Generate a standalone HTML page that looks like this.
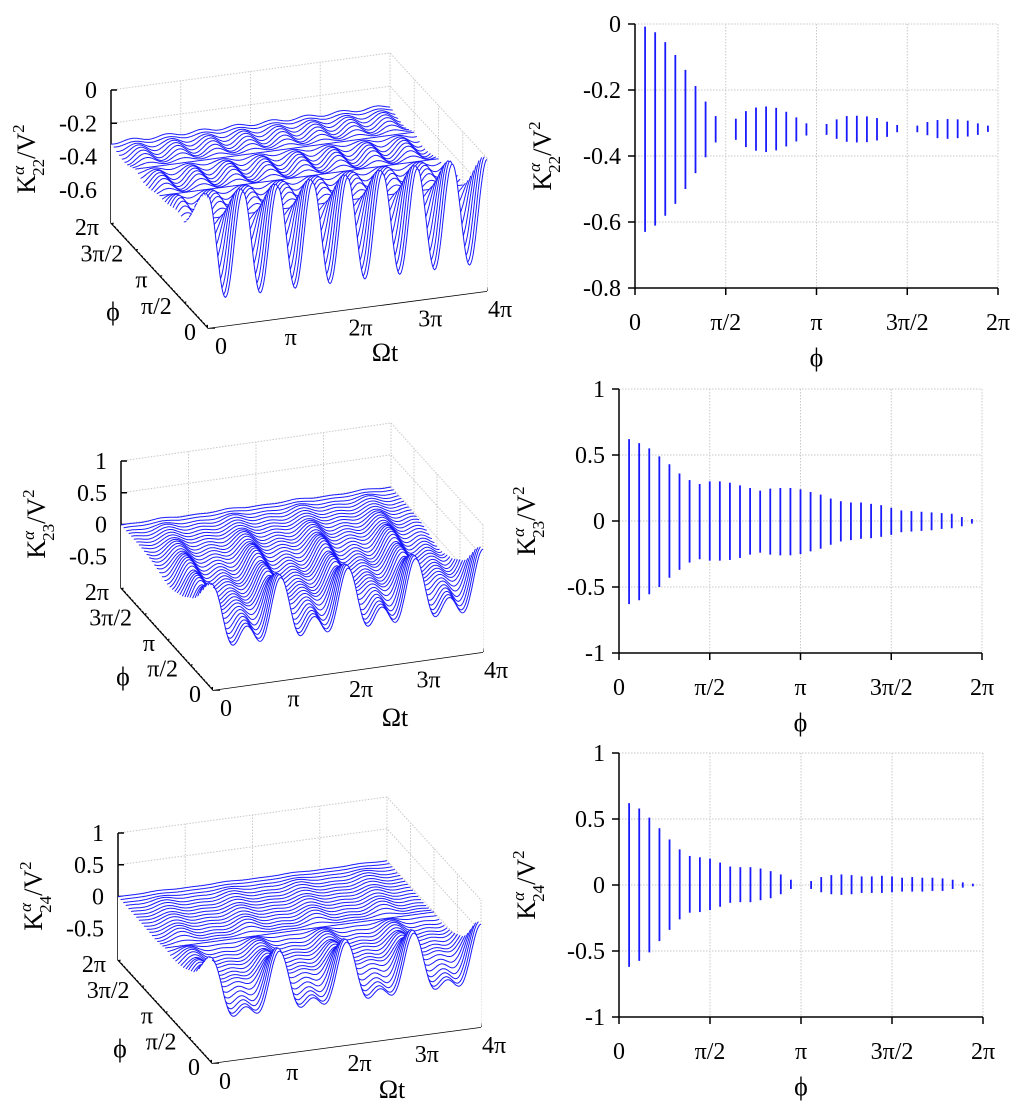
<!DOCTYPE html>
<html><head><meta charset="utf-8"><style>
html,body{margin:0;padding:0;background:#fff}
svg{display:block;font-family:"Liberation Serif",serif}
</style></head><body>
<svg id="fig" width="1024" height="1112" viewBox="0 0 1024 1112"></svg>
<script>
// ---- data (35 phi samples, phi = i*2pi/36) ----
const phiTicks = ["0","π/2","π","3π/2","2π"];
const tTicks = ["0","π","2π","3π","4π"];
const k22Max = [-0.008,-0.025,-0.055,-0.094,-0.139,-0.188,-0.235,-0.279,-0.32,-0.287,-0.264,-0.253,-0.250,-0.254,-0.266,-0.283,-0.301,-0.32,-0.303,-0.289,-0.279,-0.278,-0.280,-0.285,-0.296,-0.306,-0.318,-0.308,-0.297,-0.291,-0.288,-0.289,-0.293,-0.301,-0.308];
const k22Min = [-0.630,-0.611,-0.581,-0.545,-0.500,-0.452,-0.404,-0.359,-0.32,-0.351,-0.373,-0.384,-0.388,-0.383,-0.371,-0.356,-0.338,-0.32,-0.336,-0.348,-0.357,-0.359,-0.358,-0.353,-0.342,-0.328,-0.318,-0.328,-0.337,-0.346,-0.348,-0.346,-0.341,-0.336,-0.327];
const k23Max = [0.62,0.59,0.55,0.49,0.43,0.36,0.31,0.28,0.30,0.30,0.29,0.27,0.25,0.23,0.245,0.25,0.25,0.24,0.22,0.20,0.17,0.15,0.14,0.14,0.13,0.12,0.10,0.08,0.075,0.07,0.065,0.06,0.055,0.03,0.015];
const k23Min = [-0.63,-0.60,-0.555,-0.50,-0.43,-0.37,-0.315,-0.29,-0.30,-0.30,-0.295,-0.28,-0.255,-0.24,-0.255,-0.26,-0.26,-0.25,-0.23,-0.21,-0.18,-0.155,-0.145,-0.135,-0.13,-0.12,-0.105,-0.085,-0.08,-0.075,-0.07,-0.06,-0.055,-0.04,-0.02];
const k24Max = [0.62,0.58,0.51,0.43,0.345,0.27,0.22,0.21,0.20,0.17,0.14,0.135,0.135,0.125,0.105,0.08,0.04,0,0.03,0.06,0.075,0.08,0.075,0.065,0.065,0.07,0.065,0.055,0.06,0.055,0.055,0.05,0.04,0.02,0.01];
const k24Min = [-0.62,-0.575,-0.51,-0.425,-0.34,-0.26,-0.21,-0.205,-0.19,-0.165,-0.135,-0.13,-0.13,-0.115,-0.10,-0.07,-0.03,0,-0.03,-0.055,-0.07,-0.075,-0.07,-0.06,-0.06,-0.06,-0.055,-0.05,-0.05,-0.05,-0.045,-0.045,-0.03,-0.02,-0.01];
const k22Ticks = [0,-0.2,-0.4,-0.6,-0.8];
const k23Ticks = [1,0.5,0,-0.5,-1];

const NS="http://www.w3.org/2000/svg";
const svg=document.getElementById('fig');
function el(tag,attrs,parent){const e=document.createElementNS(NS,tag);for(const k in attrs)e.setAttribute(k,attrs[k]);(parent||svg).appendChild(e);return e;}
const BLUE="#1a1aff";
const FS=24;

function ylabel(g,cx,cy,sub){
  const t=el('text',{x:cx,y:cy,'font-size':26,'text-anchor':'middle',transform:`rotate(-90 ${cx} ${cy})`},g);
  
  
  t.innerHTML=`K<tspan font-size="17" dy="-11" font-style="italic">α</tspan><tspan font-size="17" dx="-10" dy="20">${sub}</tspan><tspan dy="-9">/V</tspan><tspan font-size="17" dy="-11">2</tspan>`;
}

function barChart(name,x0,x1,yT,yB,vTop,vBot,ticks,mins,maxs,sub){
  const g=el('g',{});
  
  
  const X=p=>x0+(x1-x0)*p/(2*Math.PI);
  const Y=v=>yT+(yB-yT)*(vTop-v)/(vTop-vBot);
  for(let i=0;i<5;i++){
    const x=x0+(x1-x0)*i/4;
    if(i>0) el('line',{x1:x,y1:yT,x2:x,y2:yB,stroke:'#c8c8c8','stroke-dasharray':'1.5,1.5'},g);
    const y=Y(ticks[i]);
    if(i<4) el('line',{x1:x0,y1:y,x2:x1,y2:y,stroke:'#c8c8c8','stroke-dasharray':'1.5,1.5'},g);
    el('line',{x1:x0-7,y1:y,x2:x0,y2:y,stroke:'#000','stroke-width':1.5},g);
    el('line',{x1:x,y1:yB,x2:x,y2:yB+7,stroke:'#000','stroke-width':1.5},g);
    const yt=el('text',{x:x0-14,y:y+8,'font-size':FS,'text-anchor':'end'},g);yt.textContent=ticks[i];
    
    
    const xt=el('text',{x:x,y:yB+42,'font-size':FS,'text-anchor':'middle'},g);xt.textContent=phiTicks[i];
    
    
  }
  el('line',{x1:x0,y1:yT,x2:x0,y2:yB,stroke:'#000','stroke-width':1.5},g);
  el('line',{x1:x0,y1:yB,x2:x1,y2:yB,stroke:'#000','stroke-width':1.5},g);
  for(let i=0;i<mins.length;i++){
    const p=(i+1)*2*Math.PI/36;
    const b=el('line',{x1:X(p),x2:X(p),y1:Y(maxs[i]),y2:Y(mins[i]),stroke:BLUE,'stroke-width':1.8},g);
    
    
  }
  const xl=el('text',{x:(x0+x1)/2,y:yB+78,'font-size':26,'text-anchor':'middle'},g);xl.textContent='ϕ';
  
  
  ylabel(g,x0-84,(yT+yB)/2,sub);
}

function surf(name,BL,FL,FR,zTopY,zmin,zmax,zticks,mins,maxs,freq,h2,sub){
  const g=el('g',{});
  
  
  const T=4*Math.PI, P2=2*Math.PI;
  const P=(t,p,z)=>[BL[0]+(t/T)*(FR[0]-FL[0])+((P2-p)/P2)*(FL[0]-BL[0]),
                    BL[1]+(t/T)*(FR[1]-FL[1])+((P2-p)/P2)*(FL[1]-BL[1])+((z-zmin)/(zmax-zmin))*(zTopY-BL[1])];
  const pt=a=>a[0].toFixed(1)+','+a[1].toFixed(1);
  const gs={stroke:'#c8c8c8','stroke-dasharray':'1.5,1.5',fill:'none'};
  for(let i=0;i<=4;i++){const t=T*i/4;el('line',{...gs,x1:P(t,0,zmin)[0],y1:P(t,0,zmin)[1],x2:P(t,P2,zmin)[0],y2:P(t,P2,zmin)[1]},g);
    const p=P2*i/4;el('line',{...gs,x1:P(0,p,zmin)[0],y1:P(0,p,zmin)[1],x2:P(T,p,zmin)[0],y2:P(T,p,zmin)[1]},g);}
  zticks.forEach(z=>{el('polyline',{...gs,points:[P(0,P2,z),P(T,P2,z),P(T,0,z)].map(pt).join(' ')},g);});
  for(let i=1;i<=4;i++){const t=T*i/4;el('line',{...gs,x1:P(t,P2,zmin)[0],y1:P(t,P2,zmin)[1],x2:P(t,P2,zmax)[0],y2:P(t,P2,zmax)[1]},g);}
  for(let i=0;i<4;i++){const p=P2*i/4;el('line',{...gs,x1:P(T,p,zmin)[0],y1:P(T,p,zmin)[1],x2:P(T,p,zmax)[0],y2:P(T,p,zmax)[1]},g);}
  const ax={stroke:'#000','stroke-width':1.5,fill:'none'};
  el('polyline',{...ax,points:[P(0,P2,zmax),P(0,P2,zmin),P(0,0,zmin),P(T,0,zmin)].map(pt).join(' ')},g);
  zticks.forEach(z=>{const a=P(0,P2,z);el('line',{...ax,x1:a[0],y1:a[1],x2:a[0]+6,y2:a[1]},g);
    if(z===zmin) return;
    const l=el('text',{x:a[0]-14,y:a[1]+8,'font-size':FS,'text-anchor':'end'},g);l.textContent=z;
    
    });
  for(let i=0;i<=4;i++){
    const a=P(T*i/4,0,zmin);el('line',{...ax,x1:a[0],y1:a[1],x2:a[0]-1,y2:a[1]-6},g);
    const l=el('text',{x:a[0]+13,y:a[1]+26,'font-size':FS,'text-anchor':'middle'},g);l.textContent=tTicks[i];
    
    
    const b=P(0,P2*i/4,zmin);el('line',{...ax,x1:b[0],y1:b[1],x2:b[0]+7,y2:b[1]},g);
    const m=el('text',{x:b[0]-12,y:b[1]+12,'font-size':FS,'text-anchor':'end'},g);m.textContent=phiTicks[i];
    
    
  }
  const xt=el('text',{x:BL[0]+274,y:BL[1]+138,'font-size':26,'text-anchor':'middle'},g);xt.textContent='Ωt';
  
  
  const pl=el('text',{x:BL[0]+2,y:BL[1]+97,'font-size':26,'text-anchor':'middle'},g);pl.textContent='ϕ';
  
  
  ylabel(g,BL[0]-76,BL[1]-64,sub);
  const n=mins.length;
  for(let j=n+1;j>=0;j--){
    const idx=Math.min(Math.max(j-1,0),n-1);
    const p=j*P2/(n+1);
    const mid=(mins[idx]+maxs[idx])/2, amp=(maxs[idx]-mins[idx])/2;
    const pts=[];
    for(let k=0;k<=240;k++){const t=T*k/240;
      const w=(1-h2)*Math.cos(freq*t-0.6*p)+h2*Math.cos(2*freq*t-1.2*p);
      pts.push(P(t,p,mid+amp*w));}
    const poly=pts.map(pt).join(' ')+' '+pt(P(T,p,zmin))+' '+pt(P(0,p,zmin));
    el('polygon',{points:poly,fill:'#fff',stroke:'none'},g);
    const c=el('polyline',{points:pts.map(pt).join(' '),fill:'none',stroke:BLUE,'stroke-width':1},g);
    
    
  }
}

surf('surface-k22',[111,223],[208,328],[487,291],90,-0.8,0,k22Ticks,k22Min,k22Max,4,0,'22');
surf('surface-k23',[121,588],[213,690],[483,652],461,-1,1,k23Ticks,k23Min,k23Max,2,0.45,'23');
surf('surface-k24',[118,960],[212,1063],[481,1027],833,-1,1,k23Ticks,k24Min,k24Max,2,0.35,'24');
barChart('chart-k22',635,998,24,288,0,-0.8,k22Ticks,k22Min,k22Max,'22');
barChart('chart-k23',619,982,389,653,1,-1,k23Ticks,k23Min,k23Max,'23');
barChart('chart-k24',619,983,753,1017,1,-1,k23Ticks,k24Min,k24Max,'24');
</script>
</body></html>
